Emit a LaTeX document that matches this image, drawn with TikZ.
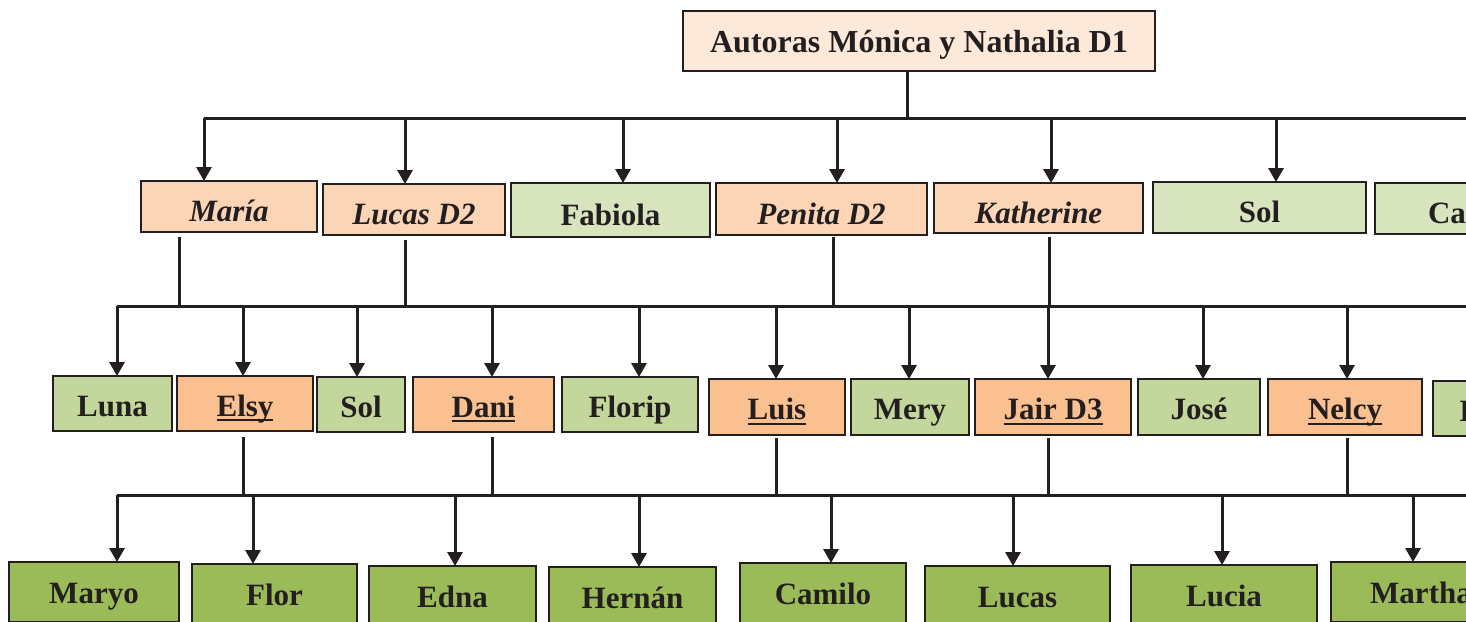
\documentclass[tikz,border=0pt]{standalone}
\usepackage{fontspec}
\setmainfont{Liberation Serif}
\usetikzlibrary{arrows.meta,calc}
\definecolor{ink}{HTML}{231F20}
\definecolor{titlefill}{HTML}{FDE9D9}
\definecolor{peach}{HTML}{FBD5B5}
\definecolor{greenA}{HTML}{D7E4BD}
\definecolor{orangeB}{HTML}{FAC090}
\definecolor{greenB}{HTML}{C3D69B}
\definecolor{greenC}{HTML}{9BBB59}
\newcommand\myul[1]{\setbox0=\hbox{#1}\rlap{\rule[-5pt]{\wd0}{1.6pt}}\box0}
\newcommand\bx[7]{\node[#2, minimum width={#5-#3}, minimum height={#6-#4}] (#1) at ({(#3+#5)/2},{(#4+#6)/2}) {#7};}
\newcommand\arw[3]{\draw[arr] let \p1=(#3.north), \p2=(#2) in ({#1pt},\y2) -- ({#1pt},\y1);}
\newcommand\drp[4]{\draw[ln] let \p1=(#2.south), \p2=(#3) in ({#1pt},{\y1-#4pt}) -- ({#1pt},\y2);}
\tikzset{
 box/.style={draw=ink, line width=2pt, inner sep=0pt, outer sep=0pt, text=ink,
   font=\fontsize{31}{31}\selectfont\bfseries, text depth=0pt},
 topbox/.style={box, fill=titlefill, font=\fontsize{32}{32}\selectfont\bfseries, text height=22pt},
 pA/.style={box, fill=peach, font=\fontsize{31}{31}\selectfont\bfseries\itshape, text height=30pt},
 gA/.style={box, fill=greenA, text height=30pt},
 oB/.style={box, fill=orangeB, text height=25pt},
 gB/.style={box, fill=greenB, text height=25pt},
 gC/.style={box, fill=greenC, text height=22pt},
 ln/.style={draw=ink, line width=3pt},
 arr/.style={ln, -{Triangle[width=15pt,length=14pt]}},
}
\begin{document}
\begin{tikzpicture}[x=1pt,y=-1pt]
\useasboundingbox (0,0) rectangle (1466,621);
\clip (0,0) rectangle (1466,621);
\fill[white] (0,0) rectangle (1466,621);
% title
\bx{title}{topbox}{683}{11}{1155}{71}{Autoras Mónica y Nathalia D1}
% level 1
\bx{maria}{pA}{141}{181}{317}{232}{María}
\bx{lucas}{pA}{323}{184}{505}{235}{Lucas D2}
\bx{fabiola}{gA}{511}{183}{710}{237}{Fabiola}
\bx{penita}{pA}{716}{183}{927}{235}{Penita D2}
\bx{katherine}{pA}{934}{183}{1143}{233}{Katherine}
\bx{solA}{gA}{1153}{182}{1366}{233}{Sol}
\bx{ca}{gA}{1375}{183}{1519}{234}{Ca}
% level 2
\bx{luna}{gB}{53}{376}{172}{431}{Luna}
\bx{elsy}{oB}{177}{376}{313}{431}{\myul{Elsy}}
\bx{solB}{gB}{317}{377}{405}{432}{Sol}
\bx{dani}{oB}{413}{377}{554}{432}{\myul{Dani}}
\bx{florip}{gB}{562}{377}{698}{432}{Florip}
\bx{luis}{oB}{709}{379}{845}{435}{\myul{Luis}}
\bx{mery}{gB}{851}{379}{969}{435}{Mery}
\bx{jair}{oB}{975}{379}{1131}{435}{\myul{Jair D3}}
\bx{jose}{gB}{1138}{379}{1260}{435}{José}
\bx{nelcy}{oB}{1268}{379}{1422}{435}{\myul{Nelcy}}
\bx{lx}{gB}{1433}{381}{1507}{436}{L}
% level 3
\bx{maryo}{gC}{9}{562}{179}{622}{Maryo}
\bx{flor}{gC}{192}{564}{357}{624}{Flor}
\bx{edna}{gC}{369}{566}{536}{626}{Edna}
\bx{hernan}{gC}{549}{567}{716}{627}{Hernán}
\bx{camilo}{gC}{740}{563}{906}{623}{Camilo}
\bx{lucasC}{gC}{925}{566}{1110}{626}{Lucas}
\bx{lucia}{gC}{1131}{565}{1317}{625}{Lucia}
\bx{martha}{gC}{1331}{562}{1511}{622}{Martha}
% buses
\coordinate (b1) at (204,118);
\coordinate (b1e) at (1480,118);
\coordinate (b2) at (117,306);
\coordinate (b2e) at (1480,306);
\coordinate (b3) at (117,495);
\coordinate (b3e) at (1480,495);
\draw[ln] (b1) -- (b1e);
\draw[ln] (b2) -- (b2e);
\draw[ln] (b3) -- (b3e);
% drops
\drp{907}{title}{b1}{0}
\drp{179}{maria}{b2}{5}
\drp{405}{lucas}{b2}{5}
\drp{833}{penita}{b2}{2}
\drp{1049}{katherine}{b2}{4}
\drp{243}{elsy}{b3}{6}
\drp{492}{dani}{b3}{5}
\drp{776}{luis}{b3}{3}
\drp{1048}{jair}{b3}{3}
\drp{1347}{nelcy}{b3}{3}
% arrows level 1
\arw{204}{b1}{maria}
\arw{405}{b1}{lucas}
\arw{623}{b1}{fabiola}
\arw{837}{b1}{penita}
\arw{1051}{b1}{katherine}
\arw{1276}{b1}{solA}
% arrows level 2
\arw{117}{b2}{luna}
\arw{243}{b2}{elsy}
\arw{357}{b2}{solB}
\arw{492}{b2}{dani}
\arw{639}{b2}{florip}
\arw{776}{b2}{luis}
\arw{909}{b2}{mery}
\arw{1048}{b2}{jair}
\arw{1203}{b2}{jose}
\arw{1347}{b2}{nelcy}
% arrows level 3
\arw{117}{b3}{maryo}
\arw{253}{b3}{flor}
\arw{455}{b3}{edna}
\arw{639}{b3}{hernan}
\arw{831}{b3}{camilo}
\arw{1013}{b3}{lucasC}
\arw{1222}{b3}{lucia}
\arw{1413}{b3}{martha}
\end{tikzpicture}
\end{document}
